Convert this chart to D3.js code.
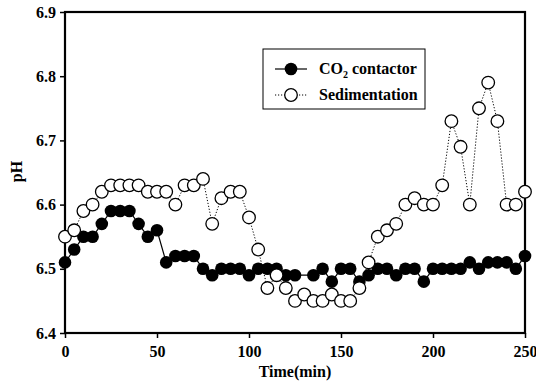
<!DOCTYPE html>
<html>
<head>
<meta charset="utf-8">
<script src="https://cdn.jsdelivr.net/npm/d3@7"></script>
<style>
  body { margin: 0; background: #fff; }
  text { font-family: "Liberation Serif", "Times New Roman", serif; font-weight: bold; }
</style>
</head>
<body>
<div id="chart"></div>
<script>
// time axis (min), one reading every 5 min
var times = [0,5,10,15,20,25,30,35,40,45,50,55,60,65,70,75,80,85,90,95,100,
  105,110,115,120,125,130,135,140,145,150,155,160,165,170,175,180,185,190,195,200,
  205,210,215,220,225,230,235,240,245,250];

// CO2 contactor pH (null = no reading)
var contactor = [6.51,6.53,6.55,6.55,6.57,6.59,6.59,6.59,6.57,6.55,6.56,
  6.51,6.52,6.52,6.52,6.50,6.49,6.50,6.50,6.50,6.49,
  6.50,6.50,6.50,6.49,6.49,null,6.49,6.50,6.48,6.50,6.50,6.48,6.49,6.50,6.50,6.49,6.50,6.50,6.48,6.50,
  6.50,6.50,6.50,6.51,6.50,6.51,6.51,6.51,6.50,6.52];

// sedimentation pH
var sedimentation = [6.55,6.56,6.59,6.60,6.62,6.63,6.63,6.63,6.63,6.62,6.62,
  6.62,6.60,6.63,6.63,6.64,6.57,6.61,6.62,6.62,6.58,
  6.53,6.47,6.49,6.47,6.45,6.46,6.45,6.45,6.46,6.45,6.45,6.47,6.51,6.55,6.56,6.57,6.60,6.61,6.60,6.60,
  6.63,6.73,6.69,6.60,6.75,6.79,6.73,6.60,6.60,6.62];

var xTicks = [0, 50, 100, 150, 200, 250];
var yTicks = [6.4, 6.5, 6.6, 6.7, 6.8, 6.9];

var margin = {top: 12, right: 11, bottom: 50, left: 65},
    width = 536 - margin.left - margin.right,
    height = 383 - margin.top - margin.bottom;

var svg = d3.select("#chart")
  .append("svg")
    .attr("width", 536)
    .attr("height", 383)
  .append("g")
    .attr("transform", "translate(" + margin.left + "," + margin.top + ")");

var x = d3.scaleLinear().domain([0, 250]).range([0, width]);
var y = d3.scaleLinear().domain([6.4, 6.9]).range([height, 0]);

// axes
var xAxis = svg.append("g")
  .attr("transform", "translate(0," + height + ")")
  .call(d3.axisBottom(x).tickValues(xTicks).tickSize(5).tickPadding(8).tickFormat(d3.format("d")));
var yAxis = svg.append("g")
  .call(d3.axisLeft(y).tickValues(yTicks).tickSize(5).tickPadding(4).tickFormat(d3.format(".1f")));

[xAxis, yAxis].forEach(function(a) {
  a.select(".domain").remove();
  a.selectAll("line").attr("stroke", "#000").attr("stroke-width", 1.5);
  a.selectAll("text").attr("font-size", 16).attr("fill", "#000")
    .style("font-family", "'Liberation Serif', serif").style("font-weight", "bold");
});

// frame
svg.append("rect")
  .attr("width", width)
  .attr("height", height)
  .attr("fill", "none")
  .attr("stroke", "#000")
  .attr("stroke-width", 2.2);

var sedData = times.map(function(t, i) { return {t: t, v: sedimentation[i]}; });
var conData = times.map(function(t, i) { return {t: t, v: contactor[i]}; })
  .filter(function(d) { return d.v !== null; });

var line = d3.line()
  .x(function(d) { return x(d.t); })
  .y(function(d) { return y(d.v); });

svg.append("path")
  .datum(sedData)
  .attr("d", line)
  .attr("fill", "none")
  .attr("stroke", "#000")
  .attr("stroke-width", 1)
  .attr("stroke-dasharray", "1.2,1.8");

svg.append("path")
  .datum(conData)
  .attr("d", line)
  .attr("fill", "none")
  .attr("stroke", "#000")
  .attr("stroke-width", 1.2);

svg.selectAll(".con")
  .data(conData)
  .enter().append("circle")
    .attr("class", "con")
    .attr("cx", function(d) { return x(d.t); })
    .attr("cy", function(d) { return y(d.v); })
    .attr("r", 6.3)
    .attr("fill", "#000");

svg.selectAll(".sed")
  .data(sedData)
  .enter().append("circle")
    .attr("class", "sed")
    .attr("cx", function(d) { return x(d.t); })
    .attr("cy", function(d) { return y(d.v); })
    .attr("r", 6.3)
    .attr("fill", "#fff")
    .attr("stroke", "#000")
    .attr("stroke-width", 1.3);

// axis titles
svg.append("text")
  .attr("x", width / 2)
  .attr("y", height + 44)
  .attr("text-anchor", "middle")
  .attr("font-size", 16)
  .text("Time(min)");

svg.append("text")
  .attr("transform", "translate(" + (-43) + "," + (height / 2 - 1) + ") rotate(-90)")
  .attr("text-anchor", "middle")
  .attr("font-size", 16)
  .text("pH");

// legend
var legend = svg.append("g")
  .attr("transform", "translate(" + (263 - margin.left) + "," + (49 - margin.top) + ")");

legend.append("rect")
  .attr("width", 162)
  .attr("height", 60)
  .attr("fill", "#fff")
  .attr("stroke", "#000")
  .attr("stroke-width", 1);

legend.append("line")
  .attr("x1", 12).attr("x2", 44).attr("y1", 20).attr("y2", 20)
  .attr("stroke", "#000").attr("stroke-width", 1.2);
legend.append("circle")
  .attr("cx", 28).attr("cy", 20).attr("r", 6.3).attr("fill", "#000");
var t1 = legend.append("text")
  .attr("x", 56).attr("y", 25)
  .attr("font-size", 16);
t1.append("tspan").text("CO");
t1.append("tspan").attr("font-size", 10).attr("dy", 4).text("2");
t1.append("tspan").attr("dy", -4).text(" contactor");

legend.append("line")
  .attr("x1", 12).attr("x2", 44).attr("y1", 46).attr("y2", 46)
  .attr("stroke", "#000").attr("stroke-width", 1)
  .attr("stroke-dasharray", "1.2,1.8");
legend.append("circle")
  .attr("cx", 28).attr("cy", 46).attr("r", 6.3)
  .attr("fill", "#fff").attr("stroke", "#000").attr("stroke-width", 1.3);
legend.append("text")
  .attr("x", 56).attr("y", 51)
  .attr("font-size", 16)
  .text("Sedimentation");
</script>
</body>
</html>
